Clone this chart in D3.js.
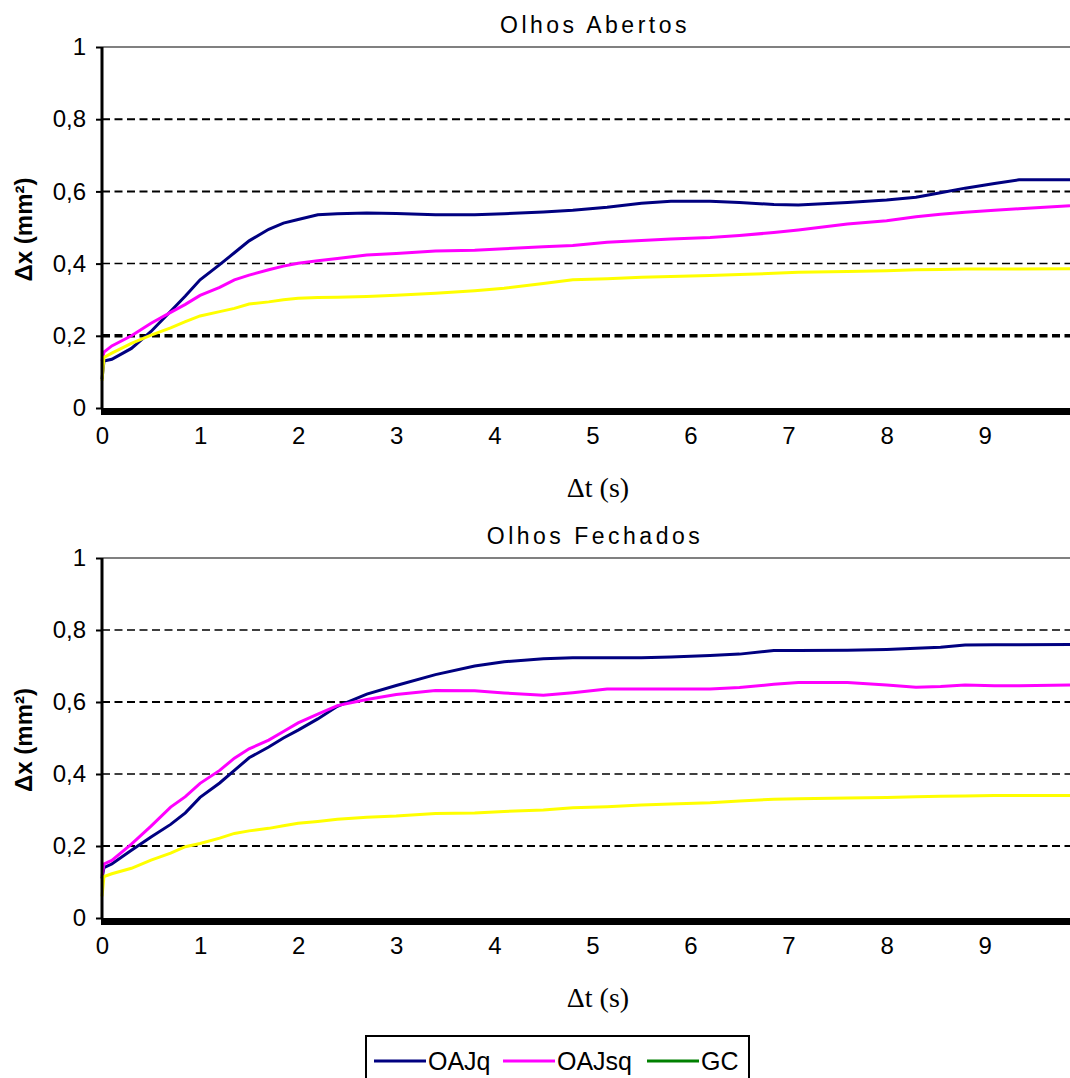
<!DOCTYPE html>
<html>
<head>
<meta charset="utf-8">
<script src="https://cdn.jsdelivr.net/npm/d3@7"></script>
<style>
  body { margin: 0; background: #fff; }
  svg { display: block; }
</style>
</head>
<body>
<svg id="chart"></svg>
<script>
// time grid (s), shared by every series
const times = [0, 0.02, 0.1, 0.3, 0.5, 0.7, 0.85, 1.0, 1.2, 1.35, 1.5, 1.7, 1.85, 2.0, 2.2, 2.4, 2.7, 3.0, 3.4, 3.8,
  4.1, 4.5, 4.8, 5.15, 5.5, 5.8, 6.2, 6.5, 6.85, 7.1, 7.6, 8.0, 8.3, 8.55, 8.8, 9.1, 9.35, 9.87];

// Olhos Abertos
const abertosOAJq = [0.08, 0.13, 0.135, 0.165, 0.212, 0.268, 0.31, 0.355, 0.397, 0.43, 0.463, 0.495, 0.512, 0.522, 0.535, 0.538, 0.54, 0.539, 0.535, 0.535,
  0.538, 0.543, 0.548, 0.556, 0.567, 0.573, 0.573, 0.569, 0.564, 0.562, 0.569, 0.576, 0.584, 0.596, 0.609, 0.622, 0.632, 0.632];
const abertosOAJsq = [0.13, 0.155, 0.172, 0.2, 0.235, 0.265, 0.287, 0.312, 0.334, 0.355, 0.368, 0.383, 0.393, 0.401, 0.408, 0.414, 0.424, 0.428, 0.435, 0.437,
  0.441, 0.447, 0.45, 0.459, 0.464, 0.468, 0.472, 0.478, 0.486, 0.493, 0.51, 0.519, 0.53, 0.537, 0.542, 0.548, 0.552, 0.56];
const abertosYellow = [0.075, 0.14, 0.152, 0.179, 0.202, 0.222, 0.239, 0.255, 0.267, 0.276, 0.288, 0.294, 0.3, 0.304, 0.306, 0.307, 0.309, 0.312, 0.318, 0.325,
  0.332, 0.345, 0.355, 0.358, 0.362, 0.364, 0.367, 0.37, 0.373, 0.376, 0.378, 0.38, 0.383, 0.384, 0.385, 0.385, 0.385, 0.386];

// Olhos Fechados
const fechadosOAJq = [0.11, 0.14, 0.15, 0.188, 0.225, 0.26, 0.292, 0.335, 0.375, 0.41, 0.445, 0.475, 0.5, 0.522, 0.553, 0.588, 0.622, 0.646, 0.676, 0.70,
  0.712, 0.72, 0.723, 0.723, 0.723, 0.725, 0.729, 0.733, 0.743, 0.743, 0.744, 0.746, 0.749, 0.752, 0.758, 0.759, 0.759, 0.76];
const fechadosOAJsq = [0.115, 0.15, 0.16, 0.205, 0.255, 0.308, 0.337, 0.374, 0.41, 0.444, 0.47, 0.494, 0.518, 0.542, 0.566, 0.59, 0.607, 0.621, 0.632, 0.631,
  0.625, 0.619, 0.626, 0.636, 0.636, 0.636, 0.636, 0.64, 0.649, 0.654, 0.654, 0.647, 0.641, 0.643, 0.647, 0.645, 0.645, 0.647];
const fechadosYellow = [0.06, 0.115, 0.123, 0.138, 0.161, 0.18, 0.198, 0.207, 0.222, 0.235, 0.242, 0.249, 0.256, 0.263, 0.268, 0.274, 0.28, 0.283, 0.29, 0.292,
  0.296, 0.3, 0.306, 0.309, 0.314, 0.317, 0.32, 0.325, 0.33, 0.331, 0.333, 0.335, 0.337, 0.338, 0.339, 0.34, 0.34, 0.34];

const xTicks = [0, 1, 2, 3, 4, 5, 6, 7, 8, 9];
const yTicks = [0, 0.2, 0.4, 0.6, 0.8, 1];
const legendNames = ["OAJq", "OAJsq", "GC"];
const legendColors = ["#000080", "#ff00ff", "#008000"];

const width = 1070, height = 1078;
const svg = d3.select("#chart").attr("width", width).attr("height", height);

function drawPanel(cfg) {
  const x = d3.scaleLinear().domain([0, 9.87]).range([102, 1070]);
  const y = d3.scaleLinear().domain([0, 1]).range([cfg.bottom, cfg.top]);
  const g = svg.append("g");

  // title
  g.append("text")
    .attr("x", 595).attr("y", cfg.top - 14)
    .attr("text-anchor", "middle")
    .style("font-family", "Liberation Sans, Arial, sans-serif")
    .style("font-size", "23px")
    .style("letter-spacing", "3.5px")
    .text(cfg.title);

  // grid lines
  yTicks.filter(d => d > 0).forEach(d => {
    const line = g.append("line")
      .attr("x1", 102).attr("x2", 1070)
      .attr("y1", y(d)).attr("y2", y(d));
    if (d === 1) {
      line.attr("stroke", "#808080").attr("stroke-width", 2);
    } else {
      line.attr("stroke", "#000")
        .attr("stroke-width", cfg.gridWidths[d])
        .attr("stroke-dasharray", "8,4.5");
    }
  });

  // series
  const line = d3.line()
    .x((d, i) => x(times[i]))
    .y(d => y(d));
  cfg.series.forEach(s => {
    g.append("path")
      .datum(s.values)
      .attr("fill", "none")
      .attr("stroke", s.color)
      .attr("stroke-width", 3)
      .attr("d", line);
  });

  // thick base at 0
  g.append("rect")
    .attr("x", 101).attr("y", y(0))
    .attr("width", 1070 - 101).attr("height", 7)
    .attr("fill", "#000");

  // y axis
  const yAxis = d3.axisLeft(y).tickValues(yTicks).tickSize(6)
    .tickFormat(d => d === 0 || d === 1 ? d3.format("d")(d) : d3.format(".1f")(d).replace(".", ","));
  const ya = g.append("g").attr("transform", "translate(102,0)").call(yAxis);
  ya.select(".domain").attr("stroke", "#000").attr("stroke-width", 3)
    .attr("d", `M0,${cfg.top}V${cfg.bottom}`);
  ya.selectAll(".tick line").attr("stroke", "#000").attr("stroke-width", 2);
  ya.selectAll(".tick text")
    .attr("x", -16)
    .style("font-family", "Liberation Sans, Arial, sans-serif")
    .style("font-size", "24px")
    .attr("fill", "#000");

  // x tick labels (no tick marks)
  const xAxis = d3.axisBottom(x).tickValues(xTicks).tickSize(0).tickFormat(d3.format("d"));
  const xa = g.append("g").attr("transform", `translate(0,${cfg.bottom + 28})`).call(xAxis);
  xa.select(".domain").remove();
  xa.selectAll(".tick text")
    .attr("y", 0).attr("dy", "0.35em")
    .style("font-family", "Liberation Sans, Arial, sans-serif")
    .style("font-size", "24px")
    .attr("fill", "#000");

  // axis titles
  g.append("text")
    .attr("transform", `translate(32,${(cfg.top + cfg.bottom) / 2 + 2}) rotate(-90)`)
    .attr("text-anchor", "middle")
    .style("font-family", "Liberation Sans, Arial, sans-serif")
    .style("font-size", "24px")
    .style("font-weight", "bold")
    .text("Δx (mm²)");

  g.append("text")
    .attr("x", 598).attr("y", cfg.bottom + 89)
    .attr("text-anchor", "middle")
    .style("font-family", "Liberation Serif, Times New Roman, serif")
    .style("font-size", "28px")
    .text("Δt (s)");
}

drawPanel({
  title: "Olhos Abertos", top: 47, bottom: 408,
  gridWidths: {0.2: 3.5, 0.4: 1.5, 0.6: 2, 0.8: 2},
  series: [
    {values: abertosOAJq, color: legendColors[0]},
    {values: abertosOAJsq, color: legendColors[1]},
    {values: abertosYellow, color: "#ffff00"}
  ]
});

drawPanel({
  title: "Olhos Fechados", top: 558, bottom: 918,
  gridWidths: {0.2: 2, 0.4: 1.5, 0.6: 2, 0.8: 1.5},
  series: [
    {values: fechadosOAJq, color: legendColors[0]},
    {values: fechadosOAJsq, color: legendColors[1]},
    {values: fechadosYellow, color: "#ffff00"}
  ]
});

// legend
const legend = svg.append("g");
legend.append("rect")
  .attr("x", 366).attr("y", 1036)
  .attr("width", 383).attr("height", 60)
  .attr("fill", "#fff").attr("stroke", "#000").attr("stroke-width", 2);

const legendX = [374, 503, 647];
legendNames.forEach((name, i) => {
  legend.append("line")
    .attr("x1", legendX[i]).attr("x2", legendX[i] + 52)
    .attr("y1", 1061).attr("y2", 1061)
    .attr("stroke", legendColors[i]).attr("stroke-width", 3);
  legend.append("text")
    .attr("x", legendX[i] + 54).attr("y", 1070)
    .style("font-family", "Liberation Sans, Arial, sans-serif")
    .style("font-size", "25px")
    .text(name);
});
</script>
</body>
</html>
